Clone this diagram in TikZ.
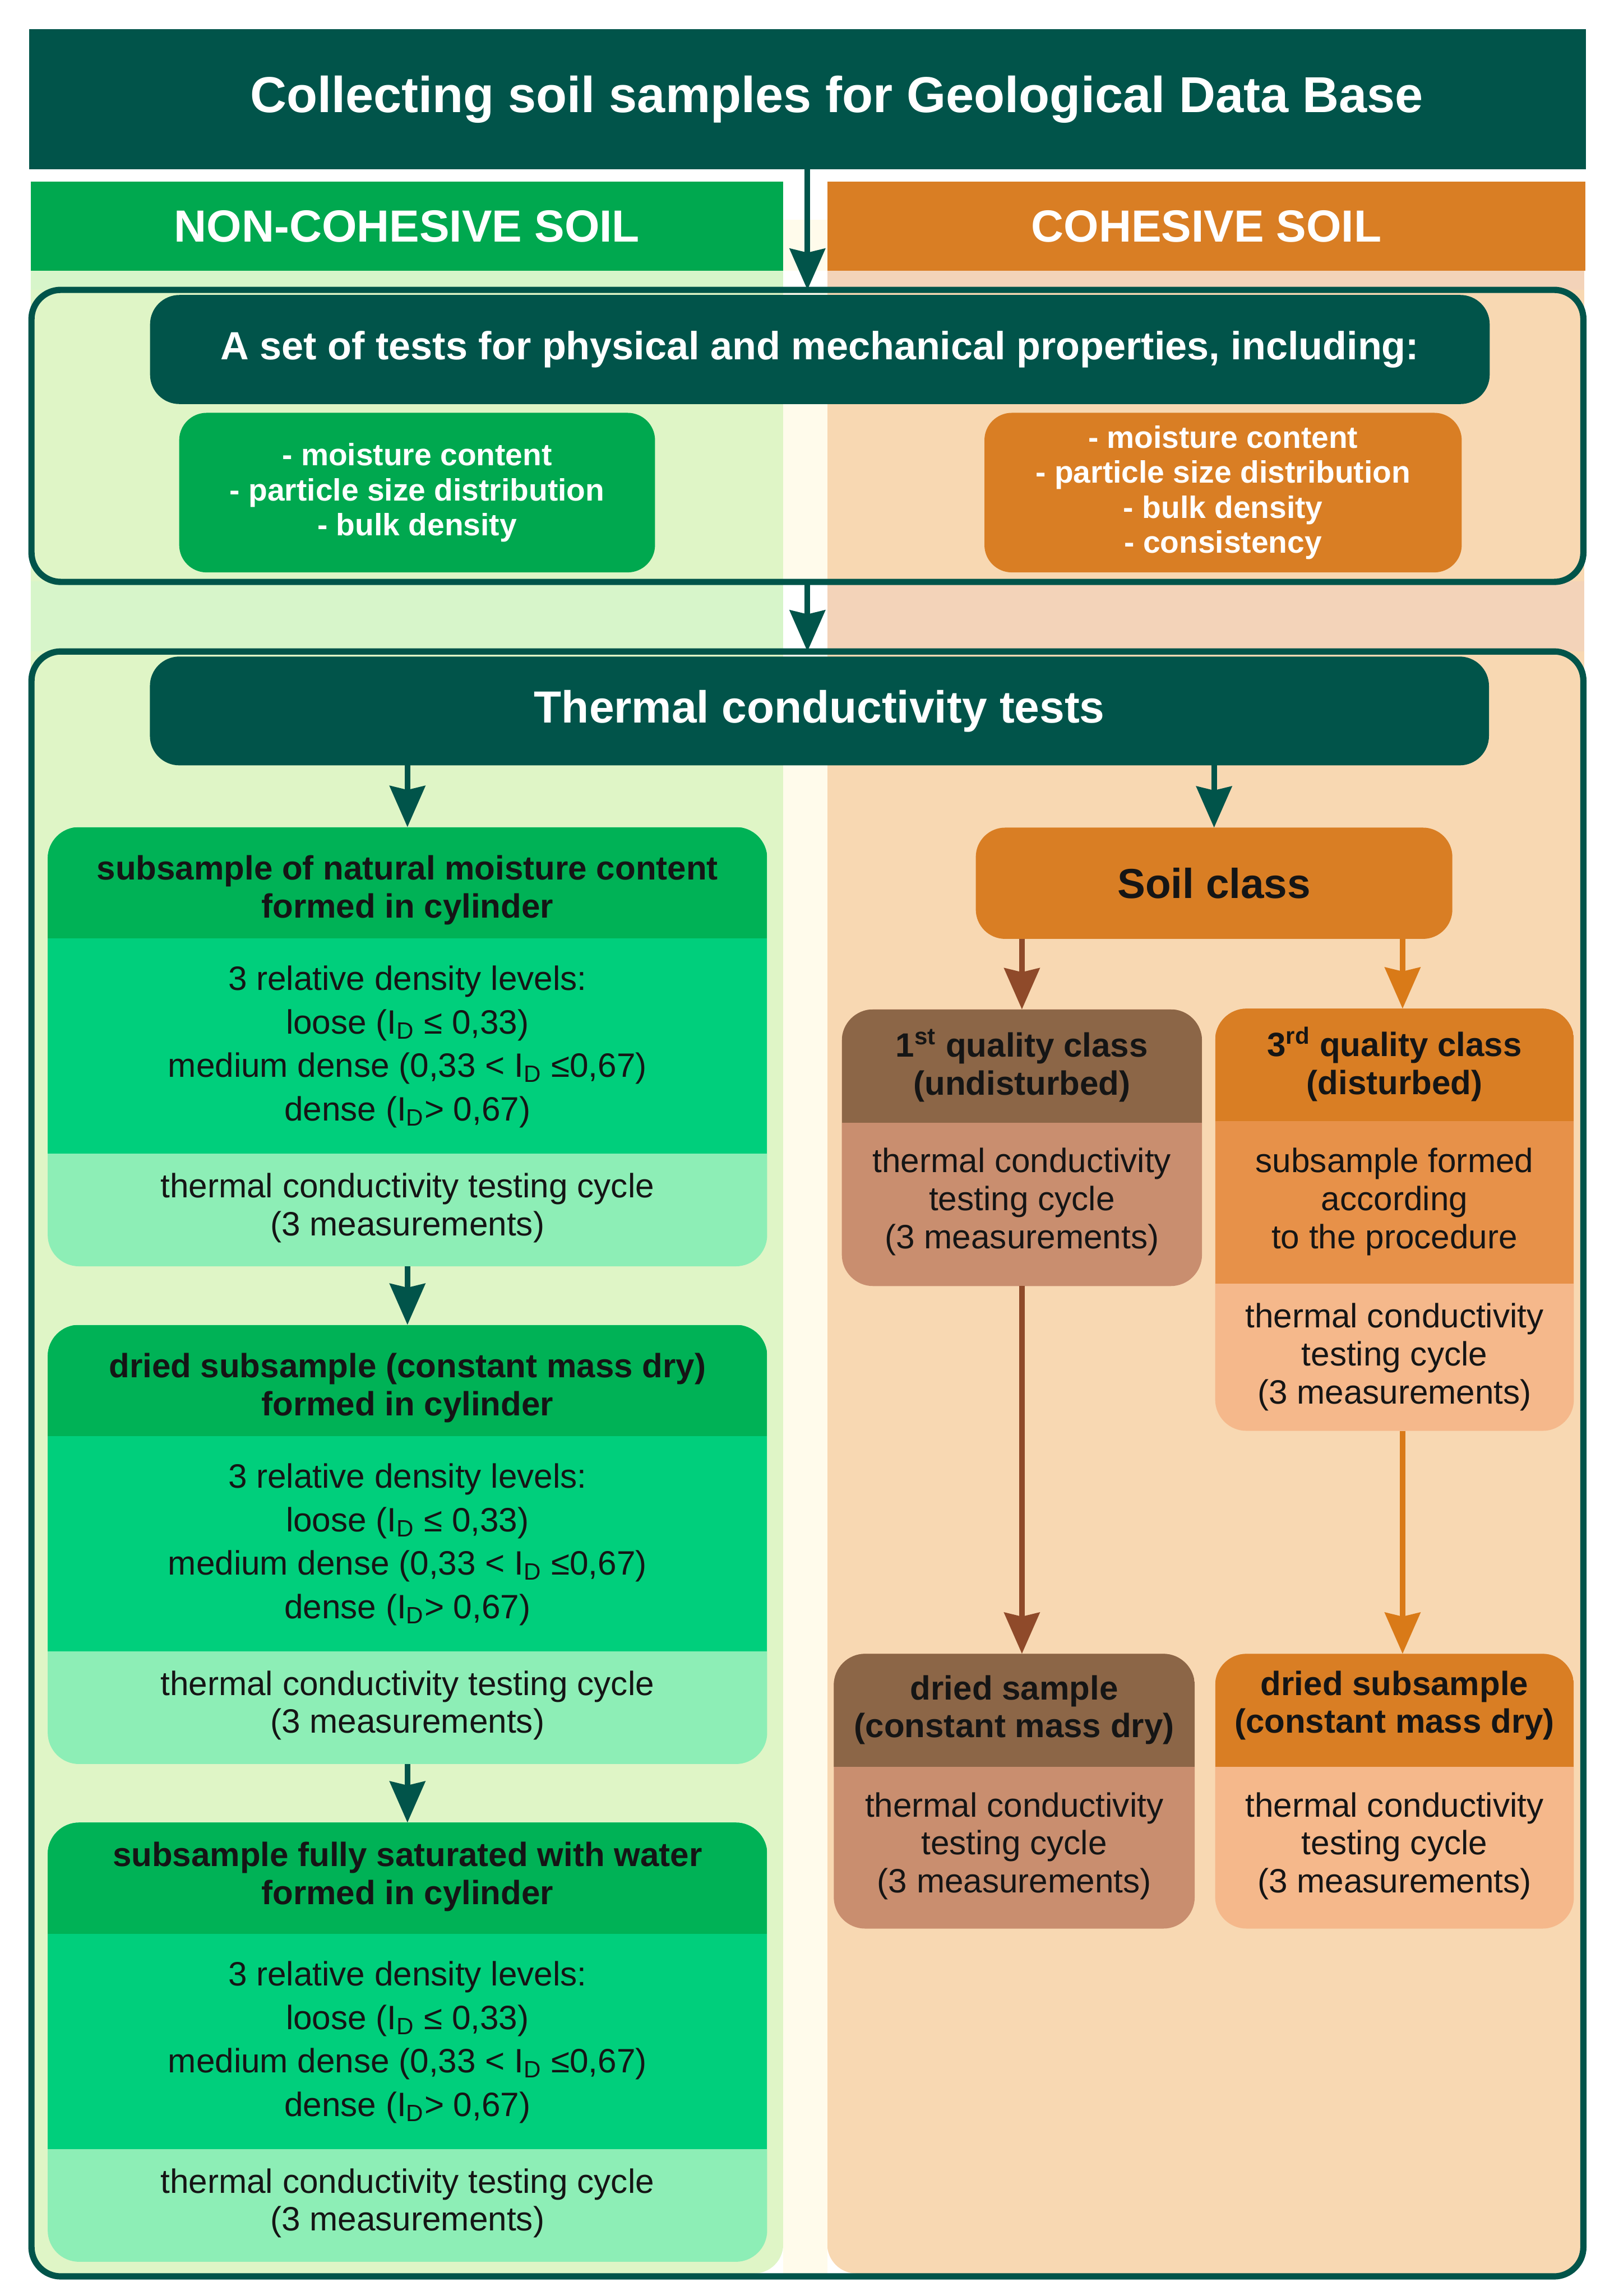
\documentclass[tikz,border=0pt]{standalone}
\usepackage{fontspec}
\setmainfont{Liberation Sans}
\usetikzlibrary{arrows.meta,calc}
\definecolor{deepteal}{HTML}{01544A}
\definecolor{soilgreen}{HTML}{00A84F}
\definecolor{soilorange}{HTML}{D97E24}
\definecolor{bggreen}{HTML}{DFF5C6}
\definecolor{bgpeach}{HTML}{F8D8B2}
\definecolor{bgcream}{HTML}{FFFBEB}
\definecolor{gapgreen}{HTML}{D7F5CA}
\definecolor{gappeach}{HTML}{F3D3B9}
\definecolor{hdgreen}{HTML}{00B256}
\definecolor{midgreen}{HTML}{00CF7C}
\definecolor{lowgreen}{HTML}{8DEEB6}
\definecolor{brownhd}{HTML}{8C6647}
\definecolor{brownbd}{HTML}{C98E6F}
\definecolor{orangemid}{HTML}{E79149}
\definecolor{orangelow}{HTML}{F5B88B}
\definecolor{arrbrown}{HTML}{8F4A2A}
\definecolor{arrorange}{HTML}{D97A18}
\definecolor{inkblack}{HTML}{151515}
\newdimen\spx \spx=0.7478pt

\begin{document}
\begin{tikzpicture}[x=0.7478pt, y=-0.7478pt,
    box/.style={inner sep=0pt, outer sep=0pt},
    bar/.style={box, fill=deepteal, rounded corners=15pt, text=white, font=\bfseries\fontsize{20.1pt}{24pt}\selectfont},
    soilhead/.style={box, text=white, font=\bfseries\fontsize{23pt}{27pt}\selectfont},
    listbox/.style={box, rounded corners=14pt, text=white, align=center, font=\bfseries\fontsize{15.8pt}{17.8pt}\selectfont},
    frame/.style={box, draw=deepteal, line width=3.2pt, rounded corners=15pt},
    stack/.style={box, rounded corners=16pt},
    bands/.style n args={4}{path picture={
        \fill[#3, sharp corners] (path picture bounding box.north west) rectangle ([yshift=-#4]path picture bounding box.north east);
        \fill[#1, sharp corners] (path picture bounding box.north west) rectangle ([yshift=-#2]path picture bounding box.north east);}},
    hd/.style={box, align=center, text=inkblack, font=\bfseries\fontsize{17.2pt}{19.4pt}\selectfont},
    bd/.style={box, align=center, text=inkblack, font=\fontsize{17.25pt}{19.4pt}\selectfont},
    lv/.style={box, align=center, text=inkblack, font=\fontsize{17.25pt}{22.2pt}\selectfont},
    arr/.style={-{Stealth[length=21pt, width=18pt, inset=2pt]}, line width=2.8pt, draw=deepteal}]
  \useasboundingbox (0,0) rectangle (1096,1568.4);

  % column backgrounds
  \fill[bggreen, rounded corners=15pt] (21,150) rectangle (535,1553);
  \fill[bgpeach, rounded corners=15pt] (565,150) rectangle (1082,1553);
  \fill[bgcream] (535,150) rectangle (565,1553);
  \fill[gapgreen] (21,185) rectangle (535,198);
  \fill[white] (535,185) rectangle (565,198);
  \fill[gappeach] (565,185) rectangle (1082,198);
  \fill[gapgreen] (21,397) rectangle (535,445);
  \fill[white] (535,397) rectangle (565,445);
  \fill[gappeach] (565,397) rectangle (1082,445);

  % title and soil headers
  \node[box, fill=deepteal, text=white, font=\bfseries\fontsize{25.8pt}{30pt}\selectfont,
    minimum width=1063.5\spx, minimum height=95.5\spx] (title) at (551.5,67.75)
    {\hspace*{40\spx}Collecting soil samples for Geological Data Base};
  \node[soilhead, fill=soilgreen, minimum width=514\spx, minimum height=61\spx] (noncoh) at (278,154.5) {NON-COHESIVE SOIL};
  \node[soilhead, fill=soilorange, minimum width=518\spx, minimum height=61\spx] (coh) at (824,154.5) {COHESIVE SOIL};

  % first frame
  \node[frame, minimum width=1060\spx, minimum height=199.5\spx] (tests) at (551.5,297.75) {};
  \node[bar, minimum width=915\spx, minimum height=74.5\spx] (setbar) at (560,238.75)
    {A set of tests for physical and mechanical properties, including:};
  \node[listbox, fill=soilgreen, minimum width=325\spx, minimum height=109\spx] (listL) at (284.9,336.5)
    {- moisture content\\- particle size distribution\\- bulk density};
  \node[listbox, fill=soilorange, minimum width=326\spx, minimum height=109\spx] (listR) at (835.4,336.5)
    {- moisture content\\- particle size distribution\\- bulk density\\- consistency};

  % second frame
  \node[frame, minimum width=1060\spx, minimum height=1110\spx] (thermframe) at (551.5,1000) {};
  \node[bar, font=\bfseries\fontsize{23pt}{27pt}\selectfont, minimum width=914.6\spx, minimum height=74.3\spx] (thermbar) at (559.7,485.65)
    {Thermal conductivity tests};

  % non-cohesive column
  \node[stack, fill=lowgreen, bands={hdgreen}{76\spx}{midgreen}{223\spx}, minimum width=491.4\spx, minimum height=300\spx] (nat) at (278.3,715) {};
  \node[hd] (nat-h) at (278.3,608) {subsample of natural moisture content\\formed in cylinder};
  \node[lv] (nat-l) at (278.3,715) {3 relative density levels:\\loose (I\textsubscript{D} ≤ 0,33)\\medium dense (0,33 < I\textsubscript{D} ≤0,67)\\dense (I\textsubscript{D}> 0,67)};
  \node[bd] (nat-c) at (278.3,825) {thermal conductivity testing cycle\\(3 measurements)};

  \node[stack, fill=lowgreen, bands={hdgreen}{76\spx}{midgreen}{223\spx}, minimum width=491.4\spx, minimum height=300\spx] (dry) at (278.3,1055) {};
  \node[hd] (dry-h) at (278.3,948) {dried subsample (constant mass dry)\\formed in cylinder};
  \node[lv] (dry-l) at (278.3,1055) {3 relative density levels:\\loose (I\textsubscript{D} ≤ 0,33)\\medium dense (0,33 < I\textsubscript{D} ≤0,67)\\dense (I\textsubscript{D}> 0,67)};
  \node[bd] (dry-c) at (278.3,1165) {thermal conductivity testing cycle\\(3 measurements)};

  \node[stack, fill=lowgreen, bands={hdgreen}{76\spx}{midgreen}{223\spx}, minimum width=491.4\spx, minimum height=300\spx] (sat) at (278.3,1395) {};
  \node[hd] (sat-h) at (278.3,1282) {subsample fully saturated with water\\formed in cylinder};
  \node[lv] (sat-l) at (278.3,1395) {3 relative density levels:\\loose (I\textsubscript{D} ≤ 0,33)\\medium dense (0,33 < I\textsubscript{D} ≤0,67)\\dense (I\textsubscript{D}> 0,67)};
  \node[bd] (sat-c) at (278.3,1505) {thermal conductivity testing cycle\\(3 measurements)};

  % cohesive column
  \node[box, rounded corners=15pt, fill=soilorange, text=inkblack, font=\bfseries\fontsize{21.4pt}{25pt}\selectfont,
    minimum width=325.5\spx, minimum height=76\spx] (soil) at (829.25,603.35) {Soil class};

  \node[stack, fill=brownbd, bands={brownhd}{77.4\spx}{brownbd}{0pt}, minimum width=246\spx, minimum height=189\spx] (q1) at (698,784) {};
  \node[hd] (q1-h) at (698,728) {1\textsuperscript{st} quality class\\(undisturbed)};
  \node[bd] (q1-c) at (698,821) {thermal conductivity\\testing cycle\\(3 measurements)};

  \node[stack, fill=orangelow, bands={soilorange}{77\spx}{orangemid}{188\spx}, minimum width=245\spx, minimum height=288.4\spx] (q3) at (952.5,833.2) {};
  \node[hd] (q3-h) at (952.5,727) {3\textsuperscript{rd} quality class\\(disturbed)};
  \node[bd] (q3-m) at (952.5,821) {subsample formed\\according\\to the procedure};
  \node[bd] (q3-c) at (952.5,927) {thermal conductivity\\testing cycle\\(3 measurements)};

  \node[stack, fill=brownbd, bands={brownhd}{77.3\spx}{brownbd}{0pt}, minimum width=246.5\spx, minimum height=187.7\spx] (dry1) at (692.75,1223.55) {};
  \node[hd] (dry1-h) at (692.75,1168) {dried sample\\(constant mass dry)};
  \node[bd] (dry1-c) at (692.75,1261) {thermal conductivity\\testing cycle\\(3 measurements)};

  \node[stack, fill=orangelow, bands={soilorange}{77.3\spx}{orangelow}{0pt}, minimum width=245\spx, minimum height=187.7\spx] (dry3) at (952.5,1223.55) {};
  \node[hd] (dry3-h) at (952.5,1165) {dried subsample\\(constant mass dry)};
  \node[bd] (dry3-c) at (952.5,1261) {thermal conductivity\\testing cycle\\(3 measurements)};

  \coordinate (q3in) at (958,689);
  \coordinate (q3out) at (958,977.4);

  % connectors
  \draw[arr] (title) -- (tests);
  \draw[arr] (tests.south) -- (thermframe.north);
  \draw[arr] (thermbar.south -| nat.north) -- (nat.north);
  \draw[arr] (thermbar.south -| soil.north) -- (soil.north);
  \draw[arr] (nat.south) -- (dry.north);
  \draw[arr] (dry.south) -- (sat.north);
  \draw[arr, draw=arrbrown] (soil.south -| q1.north) -- (q1.north);
  \draw[arr, draw=arrorange] (soil.south -| q3in) -- (q3in);
  \draw[arr, draw=arrbrown] (q1.south) -- (q1.south |- dry1.north);
  \draw[arr, draw=arrorange] (q3out) -- (q3out |- dry3.north);
\end{tikzpicture}
\end{document}
